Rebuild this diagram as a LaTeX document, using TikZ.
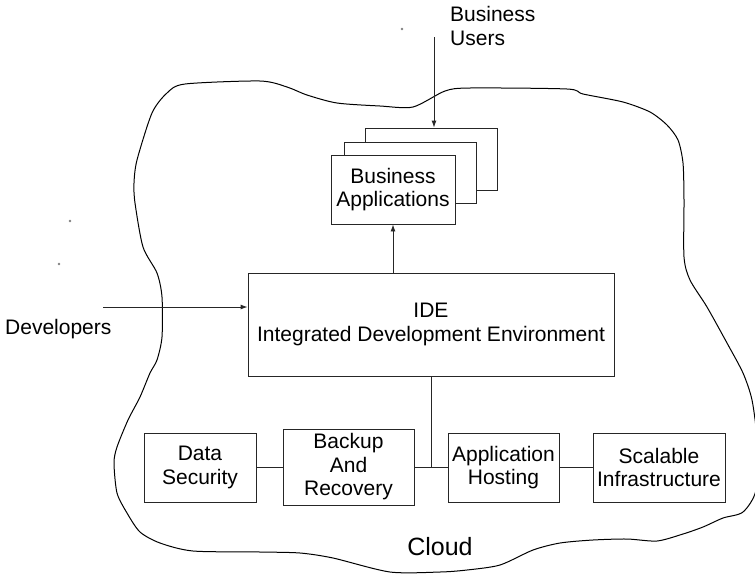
\documentclass[tikz,border=0pt]{standalone}
\usepackage{fontspec}
\setmainfont{Liberation Sans}
\usetikzlibrary{arrows.meta}
\begin{document}
\begin{tikzpicture}[x=1pt,y=-1pt,
  box/.style={draw=black!85, line width=0.9pt, fill=white, inner sep=0pt, align=center, font=\fontsize{21}{23.5}\selectfont},
  lbl/.style={inner sep=0pt, font=\fontsize{21}{23.5}\selectfont},
  arr/.style={line width=0.9pt, draw=black!85, -{Latex[length=7pt,width=5pt]}},
  conn/.style={line width=0.9pt, draw=black!85},
  dotmark/.style={fill=black!50, draw=none, circle, inner sep=0pt, minimum size=2.6pt}]
\useasboundingbox (0,0) rectangle (755,574);

% cloud outline
\draw[line width=1pt] plot[smooth cycle, tension=0.45] coordinates {
 (185,84) (260,81) (287,87) (307,95) (337,103) (380,106) (413,107) (445,91) (470,88)
 (567,89) (583,94) (623,102) (650,112) (667,125) (678,140) (683,163) (684,200) (684,257)
 (690,280) (707,307) (727,343) (743,373) (752,400) (757,440) (756,490) (743,512)
 (723,518) (703,527) (683,534) (657,541) (627,539) (593,540) (560,543) (533,550)
 (500,565) (467,570) (440,572) (390,572) (333,558) (300,553) (260,552) (193,551)
 (160,543) (140,532) (127,513) (117,493) (114,463) (117,447) (128,420) (140,397)
 (150,373) (157,360) (162,337) (162,297) (157,273) (143,247) (135,203) (134,183)
 (137,160) (152,113) (167,93)};

% stray dots
\node[dotmark] (d1) at (402,29) {};
\node[dotmark] (d2) at (70,221) {};
\node[dotmark] (d3) at (59,264) {};

% boxes
\node[box, minimum width=112pt, minimum height=69pt] (ds) at (200,467.5) {Data\\Security};
\node[box, minimum width=131pt, minimum height=76pt] (bk) at (348.5,467) {Backup\\And\\Recovery};
\node[box, minimum width=111pt, minimum height=69pt] (ah) at (503.5,467.5) {Application\\Hosting};
\node[box, minimum width=132pt, minimum height=69pt] (si) at (659,467.5) {Scalable\\Infrastructure};
\node[box, minimum width=366pt, minimum height=103pt] (ide) at (431,324.5) {IDE\\Integrated Development Environment};
\node[box, minimum width=132pt, minimum height=62pt] (ba3) at (431,159) {};
\node[box, minimum width=132pt, minimum height=61pt] (ba2) at (410,172.5) {};
\node[box, minimum width=124pt, minimum height=69pt] (ba) at (393,189.5) {Business\\Applications};

% labels
\node[lbl, anchor=north west, align=left] (bu) at (450,6.3) {Business\\Users};
\node[lbl, anchor=base west] (dev) at (5,334) {Developers};
\node[lbl, anchor=base, font=\fontsize{25}{28}\selectfont] (cl) at (440,555) {Cloud};

% connectors
\coordinate (buS) at (434,37);
\coordinate (devS) at (103,307);
\draw[arr] (buS) -- (buS |- ba3.north);
\draw[arr] (devS) -- (devS -| ide.west);
\draw[arr] (ide.north -| ba.south) -- (ba.south);
\draw[conn] (ds.east) -- (ds.east -| bk.west);
\draw[conn] (bk.east |- ah.west) -- (ah.west);
\draw[conn] (ah.east) -- (si.west);
\draw[conn] (ide.south) -- (ide.south |- ah.west);
\end{tikzpicture}
\end{document}
